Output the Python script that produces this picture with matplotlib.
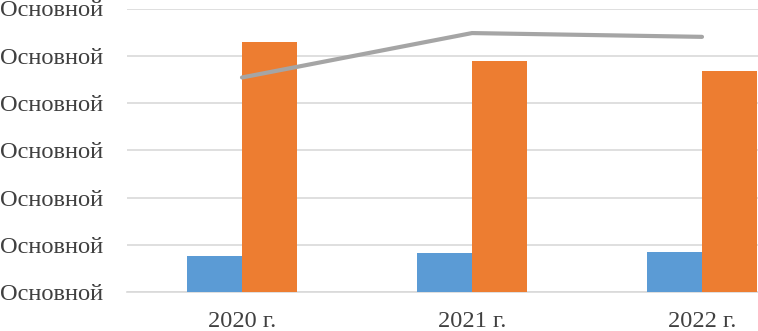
import matplotlib
matplotlib.use("Agg")
import matplotlib.pyplot as plt
import numpy as np

categories = ["2020 г.", "2021 г.", "2022 г."]
series_blue = [0.77, 0.83, 0.845]
series_orange = [5.30, 4.89, 4.68]
series_line = [4.54, 5.48, 5.40]
ytick_values = [0, 1, 2, 3, 4, 5, 6]
ytick_labels = ["Основной"] * 7

W, H = 758, 331
fig = plt.figure(figsize=(W / 100, H / 100), dpi=100)
left_px, right_px = 127, 127 + 690
top_px, bottom_px = 8.5, 292
ax = fig.add_axes([left_px / W, 1 - bottom_px / H, (right_px - left_px) / W, (bottom_px - top_px) / H])

x = np.arange(len(categories))
bw = 55 / 230
ax.bar(x - bw / 2, series_blue, width=bw, color="#5B9BD5", zorder=3)
ax.bar(x + bw / 2, series_orange, width=bw, color="#ED7D31", zorder=3)
ax.plot(x, series_line, color="#A5A5A5", linewidth=3, zorder=4, solid_capstyle="round")

ax.set_xlim(-0.5, 2.5)
ax.set_ylim(0, 6)
ax.set_yticks(ytick_values)
ax.set_yticklabels(ytick_labels)
ax.set_xticks(x)
ax.set_xticklabels(categories)
for lab in ax.get_yticklabels() + ax.get_xticklabels():
    lab.set_fontfamily("Liberation Serif")
    lab.set_fontsize(17.6)
    lab.set_color("#404040")
ax.tick_params(axis="both", length=0)
ax.tick_params(axis="y", pad=17)
ax.tick_params(axis="x", pad=14)
ax.grid(axis="y", color="#D9D9D9", linewidth=1.2, zorder=0)
for s in ["top", "right", "left"]:
    ax.spines[s].set_visible(False)
ax.spines["bottom"].set_color("#D9D9D9")
ax.spines["bottom"].set_linewidth(1.2)

fig.savefig("out.png", dpi=100)
